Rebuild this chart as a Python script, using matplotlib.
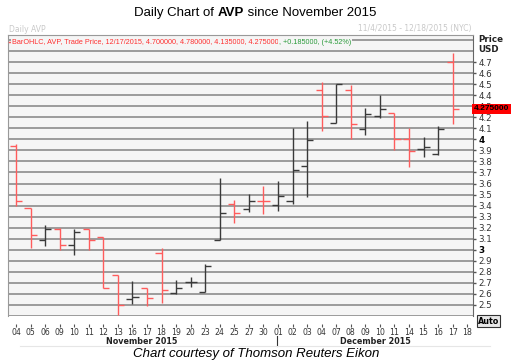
import matplotlib
matplotlib.use("Agg")
import matplotlib.pyplot as plt
import numpy as np

# daily OHLC (AVP, 11/4/2015 - 12/17/2015)
dates = ['04', '05', '06', '09', '10', '11', '12', '13', '16', '17', '18', '19', '20', '23', '24', '25',
         '27', '30', '01', '02', '03', '04', '07', '08', '09', '10', '11', '14', '15', '16', '17', '18']
opens = [3.94, 3.38, 3.09, 3.19, 3.045, 3.19, 3.12, 2.77, 2.55, 2.65, 2.975, 2.61, 2.705, 2.62, 3.09, 3.415,
         3.365, 3.445, 3.405, 3.445, 3.755, 4.45, 4.145, 4.45, 4.09, 4.215, 4.24, 4.00, 3.91, 3.87, 4.70]
highs = [3.96, 3.38, 3.225, 3.195, 3.185, 3.19, 3.12, 2.775, 2.715, 2.65, 3.015, 2.73, 2.755, 2.875, 3.65, 3.455,
         3.505, 3.58, 3.625, 4.10, 4.165, 4.52, 4.50, 4.495, 4.285, 4.405, 4.24, 4.10, 4.025, 4.12, 4.78]
lows = [3.40, 3.02, 3.035, 3.00, 2.955, 3.00, 2.655, 2.41, 2.51, 2.495, 2.52, 2.595, 2.665, 2.615, 3.09, 3.245,
        3.34, 3.325, 3.355, 3.415, 3.475, 4.075, 4.145, 4.00, 4.035, 4.195, 3.905, 3.75, 3.84, 3.86, 4.135]
closes = [3.445, 3.135, 3.185, 3.045, 3.165, 3.09, 2.655, 2.50, 2.57, 2.565, 2.635, 2.655, 2.71, 2.85, 3.335, 3.33,
          3.445, 3.44, 3.485, 3.725, 3.99, 4.215, 4.50, 4.135, 4.23, 4.275, 4.005, 3.89, 3.935, 4.09, 4.275]
last_price = 4.275
price_ticks = [2.5, 2.6, 2.7, 2.8, 2.9, 3.0, 3.1, 3.2, 3.3, 3.4, 3.5, 3.6, 3.7, 3.8, 3.9, 4.0,
               4.1, 4.2, 4.3, 4.4, 4.5, 4.6, 4.7]
extra_grid = [2.4, 4.8, 4.9]

W, H = 511, 363
fig = plt.figure(figsize=(W / 100, H / 100), dpi=100)
fig.patch.set_facecolor('white')


def fx(px):
    return px / W


def fy(py):
    return 1 - py / H


ax = fig.add_axes([fx(8), fy(316), fx(465), 281 / H])
ax.set_facecolor('#f5f5f5')

red = '#ff5c5c'
dark = '#3a3a3a'
x = np.arange(len(opens))
cols = [red if c < o else dark for o, c in zip(opens, closes)]
tw = 0.42
ax.vlines(x, lows, highs, colors=cols, lw=1.0, zorder=3)
ax.hlines(opens, x - tw, x, colors=cols, lw=1.0, zorder=3)
ax.hlines(closes, x, x + tw, colors=cols, lw=1.0, zorder=3)

ax.set_xlim(-0.55, 31.4)
ax.set_ylim(2.4, 4.945)

# y axis on the right
ax.yaxis.tick_right()
ax.set_yticks(price_ticks)
ax.set_yticks(extra_grid, minor=True)
ax.set_yticklabels(['%g' % v for v in price_ticks])
ax.tick_params(axis='y', which='major', direction='out', length=2.5, width=1, color='#555',
               labelsize=6.3, labelcolor='#333', pad=1.2)
ax.tick_params(axis='y', which='minor', length=0)
for lab in ax.get_yticklabels():
    if lab.get_text() in ('3', '4'):
        lab.set_fontweight('bold')
        lab.set_color('black')
ax.grid(True, axis='y', which='both', color='#8c8c8c', lw=1.2, zorder=1)

# x axis
ax.set_xticks(x.tolist() + [len(opens)])
ax.set_xticklabels(dates)
ax.tick_params(axis='x', direction='out', length=2.2, width=0.8, color='#555',
               labelsize=5.6, labelcolor='#333', pad=1.0)
ax.spines['bottom'].set_position(('outward', 5.5))
ax.spines['bottom'].set_visible(False)
ax.spines['left'].set_color('#999')
ax.spines['top'].set_color('#999')
ax.spines['right'].set_color('#666')

# current price flag
ax.annotate('4.275000', xy=(1, last_price), xycoords=('axes fraction', 'data'),
            xytext=(0.6, 0), textcoords='offset points', ha='left', va='center',
            fontsize=6.0, fontweight='bold', family='Liberation Sans', color='black',
            zorder=10, annotation_clip=False,
            bbox=dict(boxstyle='square,pad=0.2', fc='#ff0000', ec='none'))

# legend line
legend_red = 'BarOHLC, AVP, Trade Price, 12/17/2015, 4.700000, 4.780000, 4.135000, 4.275000'
legend_green = ', +0.185000, (+4.52%)'
fig.add_artist(plt.Line2D([fx(9), fx(12)], [fy(42), fy(42)], color=red, lw=1))
t1 = fig.text(fx(12), fy(42), legend_red, color='#ff3030', fontsize=5.2, va='center', ha='left',
              family='Liberation Sans',
              bbox=dict(boxstyle='square,pad=0.1', fc='#f5f5f5', ec='none'))
fig.canvas.draw()
r = fig.canvas.get_renderer()
bb = t1.get_window_extent(r)
fig.text(bb.x1 / W, fy(42), legend_green, color='#2a9a3a', fontsize=5.2, va='center', ha='left',
         family='Liberation Sans',
         bbox=dict(boxstyle='square,pad=0.1', fc='#f5f5f5', ec='none'))

fig.text(fx(478), fy(39), 'Price', fontsize=6.3, fontweight='bold', va='center', color='#222')
fig.text(fx(478), fy(49), 'USD', fontsize=6.3, fontweight='bold', va='center', color='#222')

# faded header of the screenshot
fig.text(fx(9), fy(29), 'Daily AVP', fontsize=5.5, color='#c8c8c8', va='center')
fig.text(fx(472), fy(29), '11/4/2015 - 12/18/2015 (NYC)', fontsize=5.5, color='#c8c8c8',
         va='center', ha='right')

# Auto button
fig.text(fx(478), fy(321), 'Auto', fontsize=5.8, fontweight='bold', va='center', color='black',
         bbox=dict(boxstyle='square,pad=0.15', fc='#e8e8e8', ec='#333', lw=0.8))

# month labels
fig.text(fx(142), fy(341), 'November 2015', fontsize=5.8, fontweight='bold', ha='center',
         va='center', color='#222')
fig.text(fx(375), fy(341), 'December 2015', fontsize=5.8, fontweight='bold', ha='center',
         va='center', color='#222')
fig.add_artist(plt.Line2D([fx(277), fx(277)], [fy(336), fy(346)], color='#333', lw=0.8))
fig.add_artist(plt.Line2D([fx(20), fx(490)], [fy(346), fy(346)], color='#e6e6e6', lw=0.8))

# title with bold ticker
title_y = fy(13)
parts = [('Daily Chart of ', 'normal'), ('AVP', 'bold'), (' since November 2015', 'normal')]
texts = []
for s, w in parts:
    texts.append(fig.text(0, title_y, s, fontsize=9.5, fontweight=w, family='Liberation Sans',
                          va='center', ha='left'))
fig.canvas.draw()
widths = [t.get_window_extent(r).width for t in texts]
xpos = 255 - sum(widths) / 2
for t, wdt in zip(texts, widths):
    t.set_x(xpos / W)
    xpos += wdt

fig.text(fx(256), fy(354), 'Chart courtesy of Thomson Reuters Eikon', fontsize=9.5, style='italic',
         family='Liberation Sans', ha='center', va='center')

fig.savefig('out.png', dpi=100)
